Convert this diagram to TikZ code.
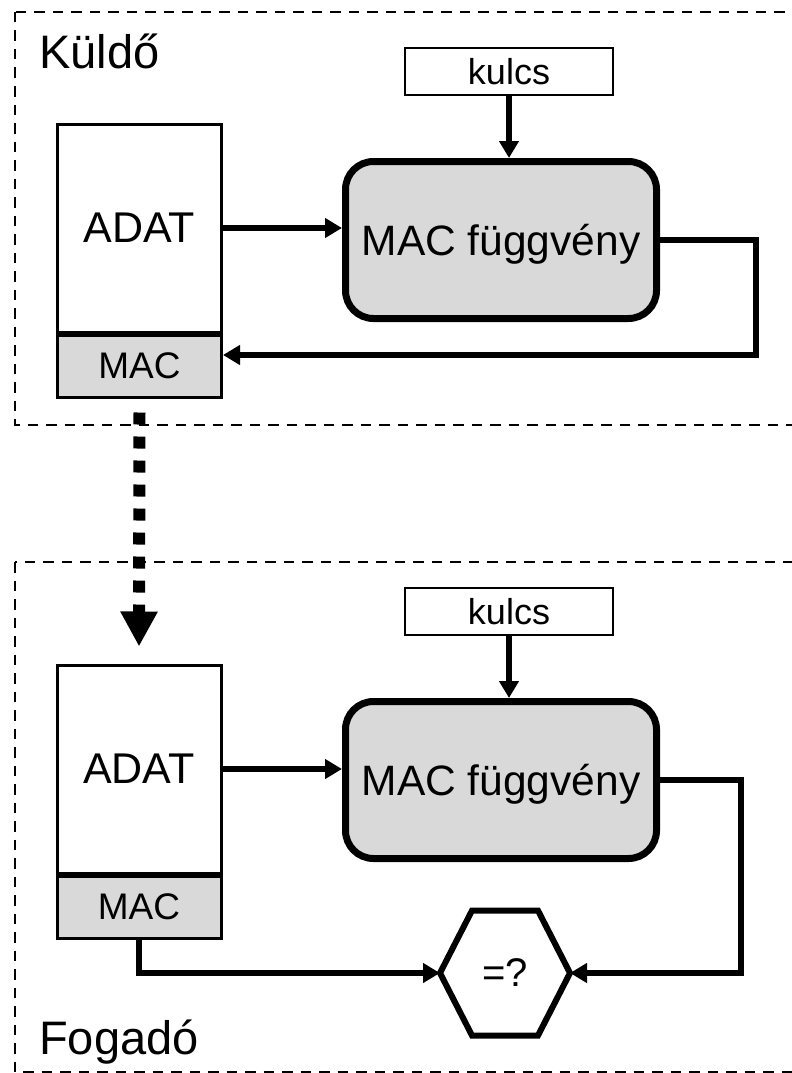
\documentclass[tikz,border=0pt]{standalone}
\usepackage{fontspec}
\setmainfont{Liberation Sans}
\usetikzlibrary{arrows.meta}
\definecolor{boxgray}{HTML}{D9D9D9}
\begin{document}
\begin{tikzpicture}[x=1pt,y=-1pt,
  frame/.style={draw, line width=2.5pt, dash pattern=on 10.5pt off 8pt},
  databox/.style={draw, line width=3pt, minimum width=164pt, minimum height=208pt,
    inner sep=0pt, font=\fontsize{43}{50}\selectfont},
  macbox/.style={draw, fill=boxgray, line width=3pt, minimum width=164pt, minimum height=62pt,
    inner sep=0pt, font=\fontsize{37}{44}\selectfont},
  keybox/.style={draw, line width=2.5pt, minimum width=208pt, minimum height=47pt,
    inner sep=0pt, font=\fontsize{36}{42}\selectfont},
  funcbox/.style={draw, fill=boxgray, line width=7pt, rounded corners=28pt,
    minimum width=311pt, minimum height=157pt, inner sep=0pt,
    font=\fontsize{42.5}{50}\selectfont, text height=30pt, text depth=0pt},
  flow/.style={line width=6.5pt, -{Triangle[length=17pt,width=19pt]}},
  transfer/.style={line width=12pt, dash pattern=on 12pt off 12pt,
    -{Triangle[length=35pt,width=35pt]}},
  title/.style={anchor=base west, inner sep=0pt, font=\fontsize{47}{54}\selectfont}
]
\useasboundingbox (0,0) rectangle (792,1073);
\fill[white] (0,0) rectangle (792,1073);
\clip (0,0) rectangle (792,1073);

% sender and receiver frames
\draw[frame] (15,12) rectangle (810,425);
\draw[frame] (15,562) rectangle (810,1072);
\node[title] (sender) at (39,68) {Küldő};
\node[title] (receiver) at (39,1054) {Fogadó};

% sender side
\node[databox] (adat1) at (139.5,228) {ADAT};
\node[macbox, anchor=north] (mac1) at (adat1.south) {MAC};
\node[keybox] (kulcs1) at (509,71.5) {kulcs};
\node[funcbox] (fn1) at (501,240) {MAC függvény};
\coordinate (ret1) at (756,355);

\draw[flow] (adat1.east) -- (adat1.east -| fn1.west);
\draw[flow] (kulcs1.south) -- (kulcs1.south |- fn1.north);
\draw[flow] (fn1.east) -| (ret1) -- (ret1 -| mac1.east);

% receiver side
\node[databox] (adat2) at (139,769) {ADAT};
\node[macbox, anchor=north] (mac2) at (adat2.south) {MAC};
\node[keybox] (kulcs2) at (509,611.5) {kulcs};
\node[funcbox] (fn2) at (501,780) {MAC függvény};
\node[minimum width=130pt, minimum height=125pt, inner sep=0pt, outer sep=0pt,
  font=\fontsize{40}{46}\selectfont] (hex) at (505,973) {=?};
\draw[line width=6pt, line join=miter]
  (hex.west) -- ([xshift=32pt]hex.north west) -- ([xshift=-32pt]hex.north east)
  -- (hex.east) -- ([xshift=-32pt]hex.south east) -- ([xshift=32pt]hex.south west) -- cycle;
\coordinate (ret2) at (741,973);

\draw[flow] (adat2.east) -- (adat2.east -| fn2.west);
\draw[flow] (kulcs2.south) -- (kulcs2.south |- fn2.north);
\draw[flow] (fn2.east) -| (ret2) -- (hex.east);
\draw[flow] (mac2.south) |- (hex.west);

% transmission of data and MAC
\draw[transfer] ([yshift=-14pt]mac1.south) -- ([yshift=17pt]adat2.north);
\end{tikzpicture}
\end{document}
